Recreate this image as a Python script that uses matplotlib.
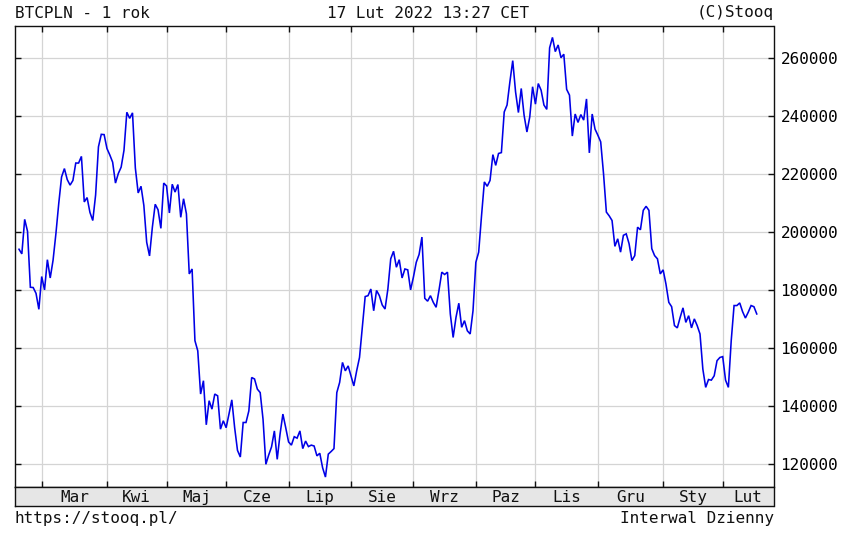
import numpy as np
import matplotlib
matplotlib.use("Agg")
import matplotlib.pyplot as plt

# ---------------- data ----------------
title_left = "BTCPLN - 1 rok"
title_center = "17 Lut 2022 13:27 CET"
title_right = "(C)Stooq"
footer_left = "https://stooq.pl/"
footer_right = "Interwal Dzienny"

months = ["Mar", "Kwi", "Maj", "Cze", "Lip", "Sie", "Wrz", "Paz", "Lis", "Gru", "Sty", "Lut"]
month_start_idx = [8, 31, 52, 73, 95, 117, 139, 161, 182, 204, 227, 248]
y_ticks = [120000, 140000, 160000, 180000, 200000, 220000, 240000, 260000]

prices = [
    194000, 192400, 204300, 200200, 180900, 180800, 178800, 173300, 184600, 180000,
    190400, 184100, 190200, 199300, 209700, 218900, 221800, 218000, 216100, 217700,
    223700, 223700, 226000, 210300, 211800, 206700, 203900, 212700, 229300, 233600,
    233500, 228700, 226500, 224000, 216800, 220100, 222300, 228100, 241200, 239100,
    241000, 222000, 213400, 215700, 209100, 196400, 191700, 201600, 209500, 207600,
    201200, 216800, 215800, 206500, 216400, 213700, 216300, 205000, 211400, 206200,
    185500, 187200, 162500, 159000, 144100, 148700, 133500, 141800, 138900, 144100,
    143500, 132000, 134900, 132500, 137200, 142100, 132500, 124700, 122400, 134300,
    134300, 138300, 149800, 149300, 145800, 144600, 135400, 119900, 123100, 125900,
    131400, 121600, 130300, 137200, 132500, 127600, 126500, 129400, 128900, 131400,
    125300, 127900, 126000, 126500, 126200, 122800, 123700, 118700, 115500, 123400,
    124300, 125300, 144600, 148100, 155000, 152100, 153800, 150400, 146900, 152100,
    156700, 167100, 177700, 178000, 180300, 172800, 179800, 178000, 174800, 173400,
    180300, 190700, 193300, 187800, 190400, 184100, 187200, 186900, 180000, 184400,
    189500, 192200, 198200, 177100, 176100, 178000, 175700, 174000, 179800, 186100,
    185300, 186100, 171700, 163600, 170500, 175400, 167100, 169400, 165900, 164800,
    172800, 189500, 193000, 205500, 217200, 215700, 217700, 226600, 222900, 227000,
    227300, 241300, 243700, 251700, 259000, 248200, 241100, 249400, 240200, 234400,
    239600, 250000, 244000, 251100, 248800, 243700, 242200, 263400, 267000, 262100,
    264400, 260000, 261200, 249100, 247100, 233000, 240600, 237700, 240400, 238500,
    245800, 227200, 240600, 235400, 233300, 231000, 220000, 206800, 205500, 203900,
    195000, 197600, 193000, 198800, 199300, 195900, 190100, 191800, 201600, 200700,
    207400, 208800, 207400, 194200, 191800, 190700, 185500, 186900, 182000, 175700,
    174200, 167700, 166900, 170500, 173800, 168800, 171100, 166900, 170000, 167700,
    164800, 152700, 146400, 149100, 148900, 150400, 155600, 156700, 157000, 148900,
    146400, 162500, 174600, 174600, 175500, 172500, 170300, 172300, 174600, 174200,
    171700,
]

# ---------------- layout ----------------
W, H = 848, 533
FONT = "DejaVu Sans Mono"
FS = 11.5
plt.rcParams["font.family"] = FONT

fig = plt.figure(figsize=(W / 100, H / 100), dpi=100)
fig.patch.set_facecolor("white")

def fx(px):
    return px / W

def fy(py):
    return 1 - py / H

left_px, right_px, top_px, bot_px, band_px = 15, 773.5, 25.5, 487, 505.5
ax = fig.add_axes([fx(left_px), fy(bot_px), fx(right_px - left_px), (bot_px - top_px) / H])
axb = fig.add_axes([fx(left_px), fy(band_px), fx(right_px - left_px), (band_px - bot_px) / H], sharex=ax)

x = np.arange(len(prices))
xmin, xmax = -1.41, 265.9
ax.set_xlim(xmin, xmax)
ax.set_ylim(112070, 271100)

ax.plot(x, prices, color="#0000e6", lw=1.15, solid_joinstyle="miter", zorder=3)

grid_c = "#d4d4d4"
for m in month_start_idx:
    ax.axvline(m, color=grid_c, lw=0.9, zorder=1)
for yv in y_ticks:
    ax.axhline(yv, color=grid_c, lw=0.9, zorder=1)

ax.set_xticks(month_start_idx)
ax.set_yticks(y_ticks)
ax.tick_params(axis="both", direction="in", length=4, width=1.0, color="#111111",
               top=True, bottom=True, left=True, right=True,
               labelbottom=False, labelleft=False, labelright=True, labeltop=False)
ax.tick_params(axis="y", labelsize=FS, pad=5)
for lab in ax.get_yticklabels():
    lab.set_fontfamily(FONT)
for s in ax.spines.values():
    s.set_color("#111111")
    s.set_linewidth(1.0)

# bottom band with month names
axb.set_facecolor("#e6e6e6")
axb.set_yticks([])
axb.tick_params(axis="x", length=0, labelbottom=False)
axb.set_ylim(0, 1)
for s in axb.spines.values():
    s.set_color("#111111")
    s.set_linewidth(1.0)
bounds = month_start_idx + [xmax]
for i, name in enumerate(months):
    mid = (bounds[i] + bounds[i + 1]) / 2
    axb.text(mid, 0.45, name, ha="center", va="center", fontsize=FS, family=FONT, color="#111111")

# header / footer texts
fig.text(fx(15), fy(13), title_left, ha="left", va="center", fontsize=FS, color="#111111")
fig.text(fx(428), fy(13), title_center, ha="center", va="center", fontsize=FS, color="#111111")
fig.text(fx(774), fy(13), title_right, ha="right", va="center", fontsize=FS, color="#111111")
fig.text(fx(15), fy(518), footer_left, ha="left", va="center", fontsize=FS, color="#111111")
fig.text(fx(774), fy(518), footer_right, ha="right", va="center", fontsize=FS, color="#111111")

fig.savefig("out.png", dpi=100, facecolor="white")
